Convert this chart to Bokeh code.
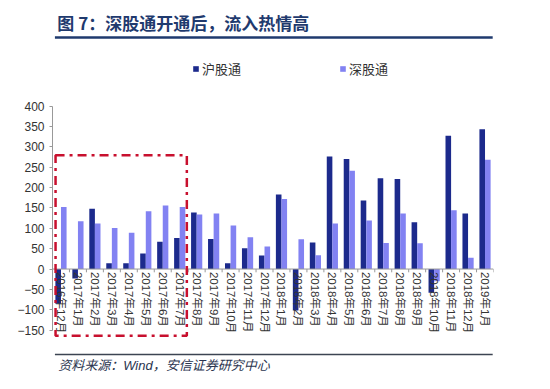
import math
from bokeh.plotting import figure
from bokeh.models import (ColumnDataSource, Range1d, FixedTicker, Legend, LegendItem,
                          BoxAnnotation)
from bokeh.layouts import column
from bokeh.transform import dodge
from bokeh.core.properties import value
from bokeh.embed import file_html
from bokeh.resources import INLINE

# ---- data ----
months = ["2016年12月", "2017年1月", "2017年2月", "2017年3月", "2017年4月", "2017年5月",
          "2017年6月", "2017年7月", "2017年8月", "2017年9月", "2017年10月", "2017年11月",
          "2017年12月", "2018年1月", "2018年2月", "2018年3月", "2018年4月", "2018年5月",
          "2018年6月", "2018年7月", "2018年8月", "2018年9月", "2018年10月", "2018年11月",
          "2018年12月", "2019年1月"]
hu = [-85, -23, 148, 14, 14, 38, 67, 76, 139, 74, 14, 51, 33, 183, -102, 65, 276, 270,
      168, 223, 221, 115, -58, 327, 136, 343]
shen = [152, 117, 112, 101, 89, 142, 156, 152, 134, 136, 107, 78, 55, 172, 73, 34, 112, 241,
        119, 64, 136, 63, -30, 144, 28, 268]
y_ticks = [-150, -100, -50, 0, 50, 100, 150, 200, 250, 300, 350, 400]
series_names = ["沪股通", "深股通"]
title_text = "图 7：深股通开通后，流入热情高"
source_text = "资料来源：Wind，安信证券研究中心"

DARK = "#1C2A8C"
LIGHT = "#8282F2"
NAVY = "#1F3A6E"
FONT = "'Liberation Sans', 'Noto Sans CJK SC'"

W = 546

# ---- header ----
HH = 46
hdr = figure(width=W, height=HH, x_range=Range1d(0, W), y_range=Range1d(HH, 0),
             x_axis_type=None, y_axis_type=None, toolbar_location=None,
             output_backend="svg", min_border=0, outline_line_color=None)
hdr.grid.visible = False
hdr.text(x=[6], y=[22], text=[title_text], text_font=value("Noto Sans CJK SC"),
         text_font_size="17px", text_font_style="bold", text_color=NAVY,
         text_baseline="middle", text_align="left")
hdr.segment(x0=[3], y0=[37], x1=[545], y1=[37], line_color=NAVY, line_width=2.5)

# ---- main chart ----
idx = list(range(len(months)))
src = ColumnDataSource(dict(idx=idx, hu=hu, shen=shen, label=months))

p = figure(width=W, height=294, x_range=Range1d(-0.5, len(months) - 0.5),
           y_range=Range1d(-168, 524), toolbar_location=None, output_backend="svg",
           min_border_left=52, min_border_right=W - 493, min_border_top=9,
           min_border_bottom=3, outline_line_color=None)
p.grid.visible = False
p.xaxis.visible = False
p.yaxis.ticker = FixedTicker(ticks=y_ticks)
p.yaxis.bounds = (y_ticks[0], y_ticks[-1])
p.yaxis.major_label_text_font = FONT
p.yaxis.major_label_text_font_size = "12px"
p.yaxis.major_label_text_color = "#333333"
p.yaxis.major_tick_out = 3
p.yaxis.major_tick_in = 0
p.yaxis.minor_tick_line_color = None
p.yaxis.axis_line_color = "#999999"
p.yaxis.major_tick_line_color = "#999999"
p.yaxis.major_label_standoff = 5

r_hu = p.vbar(x=dodge("idx", -0.165), top="hu", bottom=0, width=0.33, source=src,
              fill_color=DARK, line_color=None)
r_shen = p.vbar(x=dodge("idx", 0.165), top="shen", bottom=0, width=0.33, source=src,
                fill_color=LIGHT, line_color=None)

n = len(months)
# zero axis line and category ticks
p.segment(x0=[-0.5], y0=[0], x1=[n - 0.5], y1=[0], line_color="#999999", line_width=1)
bx = [i - 0.5 for i in range(n + 1)]
p.segment(x0=bx, y0=[0] * len(bx), x1=bx, y1=[-8] * len(bx), line_color="#999999",
          line_width=1)

# category labels (rotated, read top to bottom)
p.text(x="idx", y=-7, text="label", source=src, angle=-math.pi / 2,
       text_font=value(FONT), text_font_size="11.5px", text_color="#333333",
       text_align="left", text_baseline="middle")

# highlight box
box = BoxAnnotation(left=-0.32, right=7.42, top=279, bottom=-164, fill_color=None,
                    fill_alpha=0, line_color="#C8102E", line_alpha=1.0, line_width=2.5,
                    line_dash="9 5 3 5")
p.add_layout(box)

legend = Legend(items=[LegendItem(label=series_names[0], renderers=[r_hu]),
                       LegendItem(label=series_names[1], renderers=[r_shen])],
                orientation="horizontal", location=(140, 259), spacing=98,
                glyph_width=7, glyph_height=7, label_standoff=3,
                label_text_font=FONT, label_text_font_size="13px",
                label_text_color="#333333", border_line_color=None,
                background_fill_alpha=0, padding=0, margin=0, label_height=14)
p.add_layout(legend, "center")

# ---- footer ----
FH = 41
ftr = figure(width=W, height=FH, x_range=Range1d(0, W), y_range=Range1d(FH, 0),
             x_axis_type=None, y_axis_type=None, toolbar_location=None,
             output_backend="svg", min_border=0, outline_line_color=None)
ftr.grid.visible = False
ftr.segment(x0=[3], y0=[14], x1=[545], y1=[14], line_color="#3C4452", line_width=1.5)
ftr.text(x=[7], y=[25], text=[source_text], text_font=value(FONT),
         text_font_size="13px", text_font_style="italic", text_color="#2B3550",
         text_baseline="middle", text_align="left")

layout = column(hdr, p, ftr, spacing=0)
open("out.html", "w").write(file_html(layout, INLINE))
